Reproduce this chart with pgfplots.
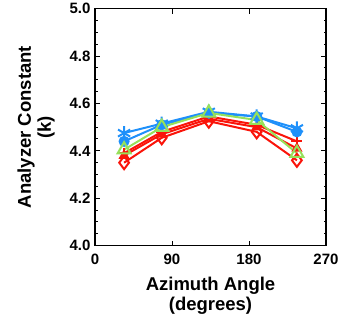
\documentclass[border=0pt]{standalone}
\usepackage{pgfplots}
\pgfplotsset{compat=1.18}
\usepackage{fontspec}
\setmainfont{Liberation Sans}
\definecolor{cblue}{RGB}{30,144,250}
\definecolor{cred}{RGB}{250,20,10}
\definecolor{cgreen}{RGB}{150,225,90}
\begin{document}
\begin{tikzpicture}
\begin{axis}[
  scale only axis,
  width=231pt, height=237pt,
  xmin=0, xmax=270, ymin=4.0, ymax=5.0,
  xtick={0,90,180,270},
  ytick={4.0,4.2,4.4,4.6,4.8,5.0},
  yticklabel style={/pgf/number format/fixed,/pgf/number format/fixed zerofill,/pgf/number format/precision=1, xshift=-1pt},
  xticklabel style={yshift=-5pt},
  /pgf/number format/assume math mode=true,
  minor y tick num=3,
  tick align=inside,
  major tick length=5pt, minor tick length=2.5pt,
  axis line style={line width=1.6pt},
  every tick/.style={line width=1pt, black},
  tick label style={font=\fontsize{15}{15}\selectfont\bfseries},
  xlabel={Azimuth Angle\\(degrees)},
  ylabel={Analyzer Constant\\(k)},
  label style={font=\fontsize{18.5}{20}\selectfont\bfseries, align=center},
  xlabel style={at={(axis description cs:0.5,-0.211)}, anchor=center},
  ylabel style={at={(axis description cs:-0.255,0.5)}, anchor=center},
  every axis plot/.append style={line width=2pt},
]
\addplot[cred, mark=diamond, mark size=6.5pt, mark options={line width=2pt}] coordinates {(34,4.35) (78,4.455) (133,4.525) (189,4.48) (236,4.36)};
\addplot[cred, mark=triangle*, mark size=4.5pt] coordinates {(34,4.38) (78,4.47) (133,4.535) (189,4.50) (236,4.41)};
\addplot[cred, mark=+, mark size=5.5pt] coordinates {(34,4.39) (78,4.48) (133,4.545) (189,4.51) (236,4.44)};
\addplot[cblue, mark=*, mark size=4.5pt] coordinates {(34,4.44) (78,4.51) (133,4.56) (189,4.545) (236,4.48)};
\addplot[cblue, mark=asterisk, mark size=7pt] coordinates {(34,4.475) (78,4.515) (133,4.565) (189,4.545) (236,4.495)};
\addplot[cgreen, mark=triangle, mark size=7.5pt, mark options={line width=2pt}] coordinates {(34,4.405) (78,4.50) (133,4.56) (189,4.53) (236,4.39)};
\end{axis}
\path (current axis.south west) ++(-95pt,-78pt) rectangle ++(344pt,323pt);
\end{tikzpicture}
\end{document}
